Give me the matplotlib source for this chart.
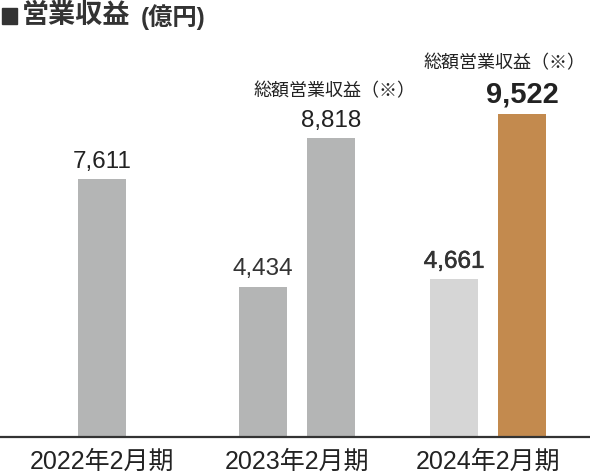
import matplotlib
matplotlib.use('Agg')
import matplotlib.pyplot as plt
import matplotlib.patheffects as pe
from matplotlib.patches import Rectangle

plt.rcParams['font.family'] = ['Liberation Sans', 'Noto Sans CJK JP']

# data
periods = ['2022年2月期', '2023年2月期', '2024年2月期']
revenue = [None, 4434, 4661]          # 営業収益
gross_revenue = [7611, 8818, 9522]    # 総額営業収益（※）
gross_note = [None, '総額営業収益（※）', '総額営業収益（※）']

group_x = [102, 297, 488]   # centres in pixel-like units
off = 34
bw = 48
note_dx = [0, 4, -17]

fig = plt.figure(figsize=(5.9, 4.74), dpi=100)
ax = fig.add_axes([0, 1 - 437 / 474, 1, 437 / 474])
ax.set_xlim(0, 590)
ax.set_ylim(0, 437 / 0.03392)
for s in ['top', 'right', 'left']:
    ax.spines[s].set_visible(False)
ax.spines['bottom'].set_color('#333333')
ax.spines['bottom'].set_linewidth(1.6)
ax.set_yticks([])
ax.set_xticks(group_x)
ax.set_xticklabels(periods, fontsize=18, color='#222222')
ax.tick_params(axis='x', length=0, pad=9)

medium = [pe.withStroke(linewidth=0.4, foreground='#333333')]

for i, gx in enumerate(group_x):
    last = (i == len(group_x) - 1)
    if revenue[i] is None:
        xs = [gx]
    else:
        xs = [gx - off, gx + off]
        c = '#d6d6d6' if last else '#b4b5b5'
        ax.bar(xs[0], revenue[i], width=bw, color=c)
        t = ax.annotate(f'{revenue[i]:,}', (xs[0], revenue[i]), xytext=(0, 8),
                        textcoords='offset points', ha='center', va='baseline',
                        fontsize=17.5, color='#333333')
        if last:
            t.set_path_effects(medium)
    c = '#c38a4e' if last else '#b4b5b5'
    fs = 21 if last else 17.5
    ax.bar(xs[-1], gross_revenue[i], width=bw, color=c)
    ax.annotate(f'{gross_revenue[i]:,}', (xs[-1], gross_revenue[i]), xytext=(0, 8),
                textcoords='offset points', ha='center', va='baseline',
                fontsize=fs, color='#222222',
                fontweight='bold' if last else 'normal')
    if gross_note[i]:
        ax.annotate(gross_note[i], (xs[-1], gross_revenue[i]),
                    xytext=(note_dx[i] * 0.72, 8 + fs * 0.72 + 13),
                    textcoords='offset points', ha='center', va='center',
                    fontsize=13, color='#222222')

fig.patches.append(Rectangle((2 / 590, 1 - 24 / 474), 15 / 590, 16 / 474,
                             transform=fig.transFigure, color='#333333'))
fig.text(22 / 590, 1 - 16 / 474, '営業収益', fontsize=19.5, fontweight='bold',
         color='#333333', va='center', ha='left')
fig.text(141 / 590, 1 - 17 / 474, '(億円)', fontsize=17.5, fontweight='bold',
         color='#333333', va='center', ha='left')

fig.savefig('out.png', dpi=100)
